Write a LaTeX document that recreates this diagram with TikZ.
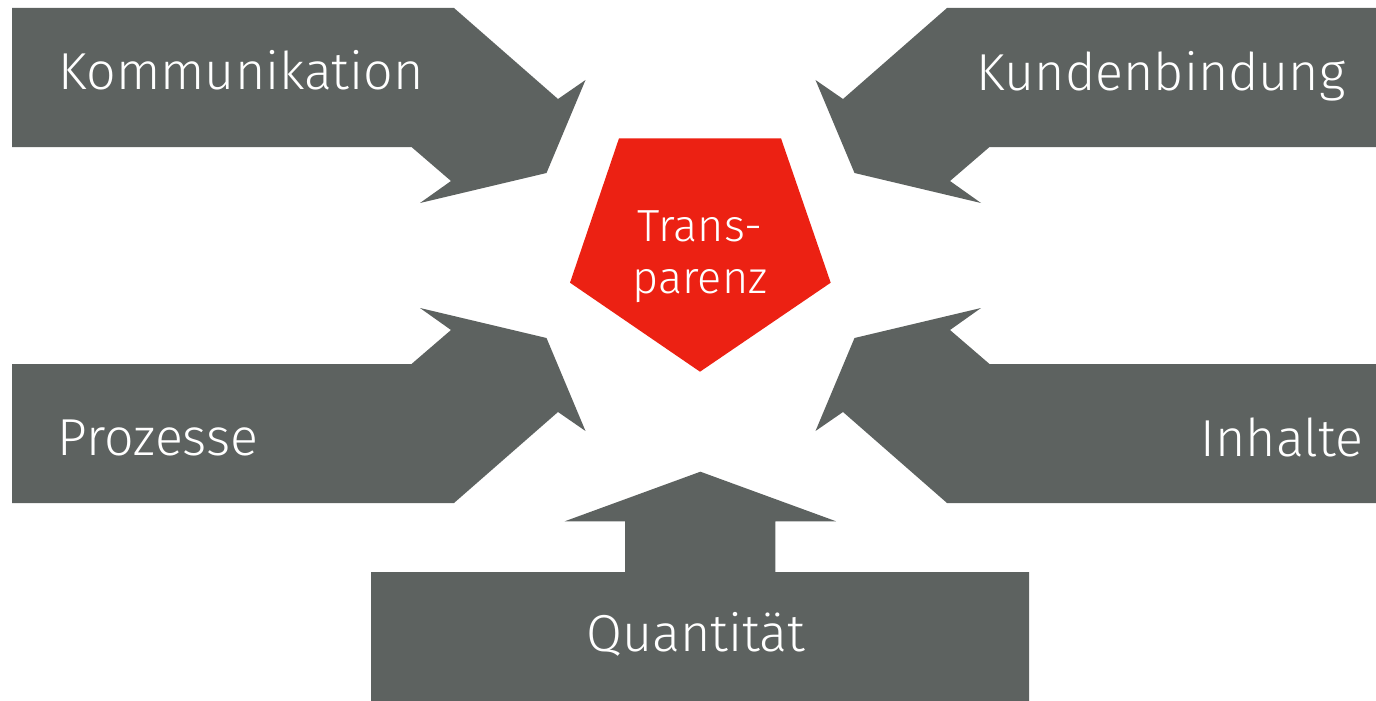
\documentclass[tikz,border=0pt]{standalone}
\usepackage{fontspec}
\setmainfont{Fira Sans Light}
\definecolor{arrowgray}{RGB}{93,98,96}
\definecolor{centerred}{RGB}{236,33,19}
\begin{document}
\begin{tikzpicture}[x=1pt,y=-1pt,
  arrowshape/.style={fill=arrowgray},
  centershape/.style={fill=centerred},
  lbl/.style={text=white,inner sep=0pt,font=\fontsize{52}{60}\selectfont},
  ctr/.style={text=white,inner sep=0pt,align=center,font=\fontsize{45}{52}\selectfont}]
\useasboundingbox (0,0) rectangle (1376,701);
% Kommunikation (top left)
\fill[arrowshape] (12,8) -- (454,8) -- (558,99) -- (585.5,80) -- (546.5,173)
  -- (420,203) -- (451,181) -- (411.5,147) -- (12,147) -- cycle;
% Prozesse (bottom left)
\fill[arrowshape] (12,503) -- (454,503) -- (558,412) -- (585.5,431) -- (546.5,338)
  -- (420,308) -- (451,330) -- (411.5,364) -- (12,364) -- cycle;
% Kundenbindung (top right)
\fill[arrowshape] (1376,8) -- (947,8) -- (843,99) -- (815.5,80) -- (854.5,173)
  -- (981,203) -- (950,181) -- (989.5,147) -- (1376,147) -- cycle;
% Inhalte (bottom right)
\fill[arrowshape] (1376,503) -- (947,503) -- (843,412) -- (815.5,431) -- (854.5,338)
  -- (981,308) -- (950,330) -- (989.5,364) -- (1376,364) -- cycle;
% Quantitaet (bottom)
\fill[arrowshape] (371,701) -- (371,572) -- (625,572) -- (625,521.3) -- (564.7,521.3)
  -- (700.4,471.7) -- (836.1,521.3) -- (775.4,521.3) -- (775.4,572) -- (1029,572)
  -- (1029,701) -- cycle;
% centre pentagon
\fill[centershape] (619,138.3) -- (781,138.3) -- (830.7,282.7) -- (700,371.7)
  -- (570,282.7) -- cycle;
% labels
\node[lbl,anchor=base west] (kom) at (58.5,89.3) {Kommunikation};
\node[lbl,anchor=base east] (kun) at (1345.6,90) {Kundenbindung};
\node[lbl,anchor=base west] (pro) at (57.4,455.7) {Prozesse};
\node[lbl,anchor=base east] (inh) at (1363.6,456) {Inhalte};
\node[lbl,anchor=base] (qua) at (696,651.7) {Quantität};
\node[ctr] (tra) at (700,257) {Trans-\\parenz};
\end{tikzpicture}
\end{document}
